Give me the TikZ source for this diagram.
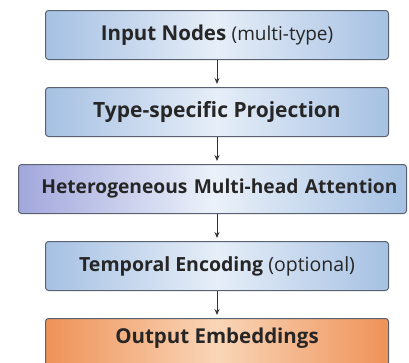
\documentclass[tikz,border=0pt]{standalone}
\usepackage{fontspec}
\setmainfont{Open Sans}
\usepackage{tikz}
\usetikzlibrary{arrows.meta, positioning}
\definecolor{boxblue}{HTML}{A6C1E3}
\definecolor{boxlight}{HTML}{E6EEF8}
\definecolor{boxviolet}{HTML}{A2A7DC}
\definecolor{boxorange}{HTML}{EF9258}
\definecolor{orangelight}{HTML}{F9D6B8}
\definecolor{boxedge}{HTML}{5A6270}
\newcommand{\fsize}[1]{\fontsize{#1}{#1}\selectfont}

\begin{document}
\begin{tikzpicture}[x=1pt, y=1pt, node distance=27pt,
		stage/.style={draw=boxedge, line width=1pt, rounded corners=3pt, minimum width=343pt, minimum height=49pt, inner sep=0pt, font=\fsize{19}\bfseries, text=black!85},
		bluebox/.style={stage, left color=boxblue, right color=boxblue, middle color=boxlight},
		flow/.style={-{Stealth[length=6pt, width=5pt]}, line width=1pt, black!80, shorten >=3pt}]
			\useasboundingbox (0,0) rectangle (409,-362);
			\node[bluebox, anchor=north, font=\fsize{20.5}\bfseries] (input) at (217,-10) {Input Nodes {\mdseries\fsize{19}(multi-type)}};
			\node[bluebox, below=of input, font=\fsize{21}\bfseries] (proj) {Type-specific Projection};
			\node[stage, below=of proj, xshift=-4.5pt, minimum width=388pt, text width=370pt, align=right, font=\fsize{19.2}\bfseries, left color=boxviolet, right color=boxblue, middle color=boxlight!80!white] (attn) {Heterogeneous Multi-head Attention};
			\node[bluebox, below=of attn, xshift=4.5pt, font=\fsize{19.5}\bfseries] (temp) {Temporal Encoding {\mdseries(optional)}};
			\node[stage, below=of temp, text depth=14pt, font=\fsize{20.5}\bfseries, left color=boxorange, right color=boxorange, middle color=orangelight] (out) {Output Embeddings};
			\draw[flow] (input) -- (proj);
			\draw[flow] (proj.south) -- (proj.south |- attn.north);
			\draw[flow] (temp.north |- attn.south) -- (temp.north);
			\draw[flow] (temp) -- (out);
		\end{tikzpicture}
\end{document}
